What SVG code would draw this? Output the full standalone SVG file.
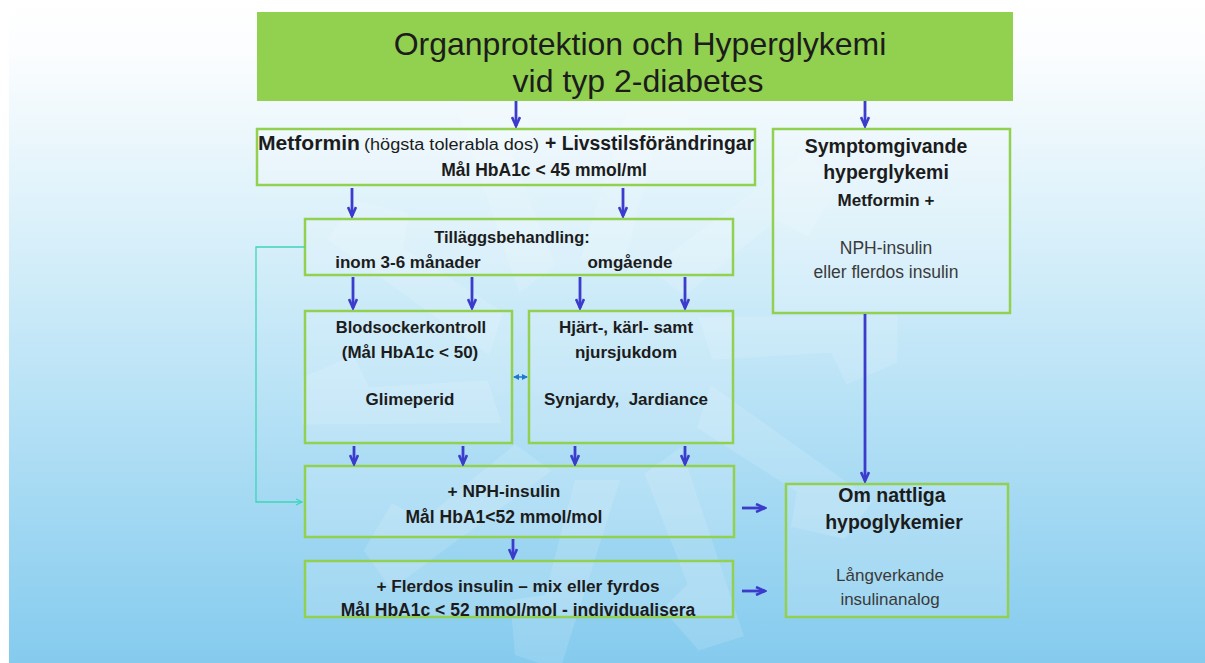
<svg xmlns="http://www.w3.org/2000/svg" width="1205" height="663" viewBox="0 0 1205 663">
<defs>
<linearGradient id="bg" x1="0" y1="0" x2="0" y2="1">
<stop offset="0" stop-color="#ffffff"/>
<stop offset="0.08" stop-color="#fbfdfe"/>
<stop offset="0.35" stop-color="#d9f0fa"/>
<stop offset="0.6" stop-color="#b8e2f6"/>
<stop offset="1" stop-color="#85cbee"/>
</linearGradient>
<marker id="ah" viewBox="0 0 12 10" refX="10" refY="5" markerWidth="12" markerHeight="10" markerUnits="userSpaceOnUse" orient="auto">
<path d="M1,1 L10,5 L1,9" fill="none" stroke="#3c3ccc" stroke-width="2.6" stroke-linejoin="miter"/>
</marker>
<marker id="ahT" viewBox="0 0 8 8" refX="7" refY="4" markerWidth="8" markerHeight="8" markerUnits="userSpaceOnUse" orient="auto">
<path d="M1,1 L7,4 L1,7" fill="none" stroke="#3cd6b8" stroke-width="1.2"/>
</marker>
<marker id="ahS" viewBox="0 0 6 6" refX="5" refY="3" markerWidth="6" markerHeight="6" markerUnits="userSpaceOnUse" orient="auto-start-reverse">
<path d="M0,0 L6,3 L0,6 Z" fill="#1e7acc"/>
</marker>
<path id="band" d="M-20,-110 L40,-300 L85,-285 L90,-230 L55,-225 L25,-110 Z"/>
<style>
.box{fill:#ffffff;fill-opacity:0.16;stroke:#92d050;stroke-width:2.5}
.title{fill:#92d050}
.t{font-family:"Liberation Sans",Arial,sans-serif;fill:#1c1c1c}
.b{font-weight:bold}
.c{text-anchor:middle}
.g{fill:#3a3a3a}
.arr{stroke:#3c3ccc;stroke-width:2.8;fill:none;marker-end:url(#ah)}
.wm{fill:#ffffff;opacity:0.13}
</style>
</defs>
<rect x="0" y="0" width="1205" height="663" fill="#ffffff"/>
<rect x="9" y="0" width="1196" height="663" fill="url(#bg)"/>
<g id="watermark" transform="translate(600,370)">
<use href="#band" class="wm"/>
<use href="#band" class="wm" transform="rotate(36)"/>
<use href="#band" class="wm" transform="rotate(72)"/>
<use href="#band" class="wm" transform="rotate(108)"/>
<use href="#band" class="wm" transform="rotate(144)"/>
<use href="#band" class="wm" transform="rotate(180)"/>
<use href="#band" class="wm" transform="rotate(216)"/>
<use href="#band" class="wm" transform="rotate(252)"/>
<use href="#band" class="wm" transform="rotate(288)"/>
<use href="#band" class="wm" transform="rotate(324)"/>
</g>
<g id="title">
<rect class="title" x="257" y="12" width="756" height="89"/>
<text class="t c" x="640" y="55" font-size="32">Organprotektion och Hyperglykemi</text>
<text class="t c" x="638" y="92" font-size="32">vid typ 2-diabetes</text>
</g>
<g id="metformin">
<rect class="box" x="257" y="129" width="498" height="56"/>
<text class="t b" x="258" y="150" font-size="20" textLength="102" lengthAdjust="spacingAndGlyphs">Metformin</text>
<text class="t" x="364" y="150" font-size="16" textLength="175" lengthAdjust="spacingAndGlyphs">(högsta tolerabla dos)</text>
<text class="t b" x="545" y="150" font-size="20" textLength="209" lengthAdjust="spacingAndGlyphs">+ Livsstilsförändringar</text>
<text class="t b c" x="544" y="176" font-size="17.5">Mål HbA1c &lt; 45 mmol/ml</text>
</g>
<g id="tillagg">
<rect class="box" x="305" y="219" width="428" height="56"/>
<text class="t b c" x="512" y="243" font-size="16.5">Tilläggsbehandling:</text>
<text class="t b c" x="408" y="268" font-size="17">inom 3-6 månader</text>
<text class="t b c" x="630" y="268" font-size="17">omgående</text>
</g>
<g id="blodsocker">
<rect class="box" x="305" y="311" width="207" height="132"/>
<text class="t b c" x="411" y="333" font-size="16.5">Blodsockerkontroll</text>
<text class="t b c" x="410" y="358" font-size="17">(Mål HbA1c &lt; 50)</text>
<text class="t b c" x="410" y="405" font-size="17">Glimeperid</text>
</g>
<g id="hjart">
<rect class="box" x="529" y="311" width="204" height="132"/>
<text class="t b c" x="626" y="333" font-size="17">Hjärt-, kärl- samt</text>
<text class="t b c" x="626" y="358" font-size="17">njursjukdom</text>
<text class="t b c" x="626" y="405" font-size="17" xml:space="preserve">Synjardy,  Jardiance</text>
</g>
<g id="nph">
<rect class="box" x="305" y="466" width="429" height="71"/>
<text class="t b c" x="504" y="497" font-size="17.3">+ NPH-insulin</text>
<text class="t b c" x="504" y="523" font-size="17.5">Mål HbA1&lt;52 mmol/mol</text>
</g>
<g id="flerdos">
<rect class="box" x="305" y="561" width="428" height="56"/>
<text class="t b c" x="518" y="592" font-size="17.2">+ Flerdos insulin – mix eller fyrdos</text>
<text class="t b c" x="518" y="616" font-size="17.5">Mål HbA1c &lt; 52 mmol/mol - individualisera</text>
</g>
<g id="symptom">
<rect class="box" x="773" y="129" width="237" height="184"/>
<text class="t b c" x="886" y="153" font-size="19.5">Symptomgivande</text>
<text class="t b c" x="886" y="179" font-size="19.5">hyperglykemi</text>
<text class="t b c" x="886" y="206" font-size="17">Metformin +</text>
<text class="t g c" x="886" y="254" font-size="17.5">NPH-insulin</text>
<text class="t g c" x="886" y="278" font-size="17.5">eller flerdos insulin</text>
</g>
<g id="nattliga">
<rect class="box" x="786" y="484" width="222" height="133"/>
<text class="t b c" x="892" y="502" font-size="19.5">Om nattliga</text>
<text class="t b c" x="894" y="529" font-size="19.5">hypoglykemier</text>
<text class="t g c" x="890" y="581" font-size="17">Långverkande</text>
<text class="t g c" x="890" y="605" font-size="17">insulinanalog</text>
</g>
<g id="connectors">
<line class="arr" x1="516" y1="101" x2="516" y2="126"/>
<line class="arr" x1="865" y1="101" x2="865" y2="126"/>
<line class="arr" x1="352" y1="188" x2="352" y2="216"/>
<line class="arr" x1="623" y1="188" x2="623" y2="216"/>
<line class="arr" x1="353" y1="277" x2="353" y2="308"/>
<line class="arr" x1="472" y1="277" x2="472" y2="308"/>
<line class="arr" x1="580" y1="277" x2="580" y2="308"/>
<line class="arr" x1="685" y1="277" x2="685" y2="308"/>
<line class="arr" x1="354" y1="446" x2="354" y2="464"/>
<line class="arr" x1="463" y1="446" x2="463" y2="464"/>
<line class="arr" x1="575" y1="446" x2="575" y2="464"/>
<line class="arr" x1="685" y1="446" x2="685" y2="464"/>
<line class="arr" x1="513" y1="539" x2="513" y2="558"/>
<line class="arr" x1="742" y1="508" x2="765" y2="508"/>
<line class="arr" x1="742" y1="591" x2="765" y2="591"/>
<line class="arr" x1="865" y1="314" x2="865" y2="481"/>
<path d="M305,247 H256 V502 H302" fill="none" stroke="#3cd6b8" stroke-width="1.3" marker-end="url(#ahT)"/>
<line x1="514" y1="377" x2="527" y2="377" stroke="#1e7acc" stroke-width="1.5" marker-start="url(#ahS)" marker-end="url(#ahS)"/>
</g>
</svg>
